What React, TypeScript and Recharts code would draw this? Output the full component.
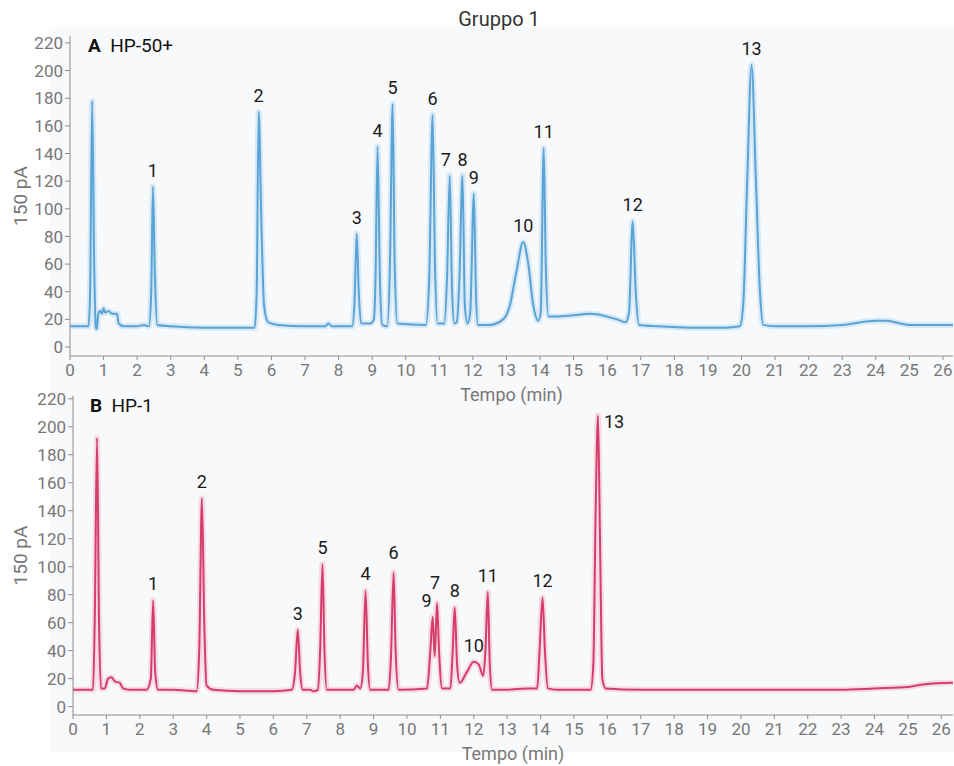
import React from "react";
import { LineChart, Line, XAxis, YAxis, ReferenceDot } from "recharts";

// Panel A – HP-50+ (time in min, signal in pA)
const timeA = [
  0, 0.55, 0.6, 0.66, 0.72, 0.77, 0.8, 0.84, 0.9, 0.95, 1.0, 1.05, 1.15, 1.25, 1.4, 1.45, 1.6,
  2.0, 2.2, 2.35, 2.42, 2.47, 2.53, 2.6, 3.0, 4.0, 5.0, 5.5, 5.56, 5.62, 5.7, 5.78, 5.9, 6.2,
  7.0, 7.6, 7.7, 7.8, 8.4, 8.47, 8.54, 8.6, 8.67, 8.95, 9.05, 9.1, 9.16, 9.23, 9.3, 9.45, 9.53,
  9.61, 9.67, 9.75, 10.6, 10.7, 10.8, 10.87, 10.95, 11.15, 11.23, 11.31, 11.38, 11.45, 11.52,
  11.6, 11.69, 11.76, 11.84, 11.92, 12.03, 12.09, 12.15, 12.5, 12.9, 13.1, 13.3, 13.5, 13.65,
  13.8, 13.95, 14.02, 14.11, 14.17, 14.25, 14.5, 15.0, 15.5, 16.0, 16.3, 16.55, 16.65, 16.76,
  16.85, 16.95, 17.5, 18.5, 19.5, 19.95, 20.05, 20.17, 20.3, 20.43, 20.55, 20.65, 21.0, 22.0,
  23.0, 24.0, 24.3, 25.0, 26.3,
];
const signalA = [
  15, 15, 40, 178, 60, 14, 13, 24, 26, 24, 28, 25, 26, 24, 24, 17, 15,
  15, 16, 15, 40, 116, 50, 16, 15, 14, 14, 14, 40, 170, 90, 30, 18, 16,
  15, 15, 17, 15, 15, 30, 82, 40, 17, 17, 20, 50, 145, 50, 16, 15, 60,
  176, 60, 17, 16, 50, 168, 60, 17, 17, 50, 124, 40, 17, 18,
  50, 124, 30, 17, 25, 111, 40, 16, 16, 20, 30, 55, 76, 60,
  30, 19, 25, 144, 60, 22, 22, 23, 24, 22, 20, 18, 25, 91,
  40, 16, 15, 14, 14, 15, 30, 120, 204, 120, 40, 16, 15, 15,
  16, 19, 19, 16, 16,
];

// Panel B – HP-1
const timeB = [
  0, 0.6, 0.65, 0.72, 0.78, 0.84, 0.95, 1.05, 1.15, 1.25, 1.4, 1.5, 1.7, 2.2, 2.33, 2.4, 2.46,
  2.55, 3.0, 3.7, 3.78, 3.86, 3.93, 4.0, 4.2, 5.0, 6.0, 6.55, 6.65, 6.73, 6.8, 6.88, 7.1, 7.2,
  7.33, 7.4, 7.47, 7.53, 7.6, 8.4, 8.5, 8.6, 8.68, 8.76, 8.83, 8.9, 9.45, 9.52, 9.6, 9.66, 9.75,
  10.6, 10.7, 10.77, 10.83, 10.9, 10.96, 11.05, 11.3, 11.37, 11.43, 11.5, 11.58, 11.8, 12.0,
  12.15, 12.28, 12.35, 12.42, 12.48, 12.55, 13.0, 13.6, 13.9, 13.97, 14.06, 14.13, 14.22, 14.5,
  15.5, 15.58, 15.65, 15.72, 15.78, 15.85, 15.95, 17.0, 20.0, 23.0, 24.0, 25.0, 25.5, 26.35,
];
const signalB = [
  12, 12, 60, 192, 60, 13, 13, 20, 21, 18, 17, 13, 12, 12, 20, 76, 25,
  12, 12, 11, 40, 149, 60, 15, 12, 11, 11, 12, 25, 55, 25, 12, 12, 11,
  12, 40, 102, 40, 12, 12, 15, 13, 25, 83, 30, 12, 12, 35, 96, 40, 12,
  13, 40, 64, 36, 74, 40, 13, 13, 40, 71, 30, 17, 25, 32,
  30, 22, 40, 82, 30, 12, 12, 13, 13, 40, 78, 40, 13, 12,
  12, 30, 140, 208, 120, 20, 13, 12, 12, 12, 13, 14, 16, 17,
];

const peakNames = ["1", "2", "3", "4", "5", "6", "7", "8", "9", "10", "11", "12", "13"];
const peakTimeA = [2.47, 5.62, 8.54, 9.16, 9.61, 10.8, 11.31, 11.69, 12.03, 13.5, 14.11, 16.76, 20.3];
const peakTopA = [116, 170, 82, 145, 176, 168, 124, 124, 111, 76, 144, 91, 204];
const peakTimeB = [2.4, 3.86, 6.73, 8.76, 7.47, 9.6, 10.9, 11.43, 10.77, 12.0, 12.42, 14.06, 15.72];
const peakTopB = [76, 149, 55, 83, 102, 96, 74, 71, 64, 32, 82, 78, 208];

const xTicks = [0, 1, 2, 3, 4, 5, 6, 7, 8, 9, 10, 11, 12, 13, 14, 15, 16, 17, 18, 19, 20, 21, 22, 23, 24, 25, 26];
const yTicks = [0, 20, 40, 60, 80, 100, 120, 140, 160, 180, 200, 220];

// small label nudges so overlapping numbers sit like the original
const nudgeA: Record<string, [number, number]> = { "7": [-4, 0] };
const nudgeB: Record<string, [number, number]> = { "9": [-6, 0], "7": [-2, -4], "6": [0, -3], "13": [16, 22] };

const FONT = "Roboto, 'Noto Sans', sans-serif";
const TICK_SIZE = 17;
const TICK_COLOR = "#777";
const AXIS = "#8c8c8c";

const XTick = ({ x, y, payload }: any) => (
  <text x={x} y={y} dy="0.75em" textAnchor="middle" fill={TICK_COLOR} fontSize={TICK_SIZE} fontFamily={FONT}>
    {payload.value}
  </text>
);

const YTick = ({ x, y, payload }: any) => (
  <text x={x} y={y} dy="0.36em" textAnchor="end" fill={TICK_COLOR} fontSize={TICK_SIZE} fontFamily={FONT}>
    {payload.value}
  </text>
);

const PeakLabel = ({ viewBox, text, dx = 0, dy = 0 }: any) => (
  <text
    x={viewBox.x + dx}
    y={viewBox.y - 10 + dy}
    textAnchor="middle"
    fill="#1a1a1a"
    fontSize={18}
    fontFamily={FONT}
  >
    {text}
  </text>
);

const YTitle = ({ viewBox }: any) => (
  <text
    x={20}
    y={viewBox.y + viewBox.height / 2}
    transform={`rotate(-90 20 ${viewBox.y + viewBox.height / 2})`}
    textAnchor="middle"
    dominantBaseline="central"
    fill={TICK_COLOR}
    fontSize={19}
    fontFamily={FONT}
  >
    150 pA
  </text>
);

const XTitle = ({ viewBox }: any) => (
  <text
    x={viewBox.x + viewBox.width / 2}
    y={viewBox.y + 45}
    textAnchor="middle"
    fill={TICK_COLOR}
    fontSize={18}
    fontFamily={FONT}
  >
    Tempo (min)
  </text>
);

interface PanelProps {
  times: number[];
  values: number[];
  peakTimes: number[];
  peakTops: number[];
  nudge: Record<string, [number, number]>;
  color: string;
  glow: string;
  width: number;
  height: number;
  top: number;
  yWidth: number;
  xHeight: number;
  xMax: number;
  yDomain: [number, number];
}

const Chromatogram = (p: PanelProps) => {
  const data = p.times.map((t, i) => ({ t, v: p.values[i] }));
  return (
    <LineChart
      width={p.width}
      height={p.height}
      data={data}
      margin={{ top: p.top, right: 1, left: 0, bottom: 0 }}
    >
      <XAxis
        dataKey="t"
        type="number"
        domain={[0, p.xMax]}
        ticks={xTicks}
        allowDataOverflow
        height={p.xHeight}
        tick={<XTick />}
        tickSize={4}
        tickMargin={3}
        stroke={AXIS}
        interval={0}
        label={<XTitle />}
      />
      <YAxis
        type="number"
        domain={p.yDomain}
        ticks={yTicks}
        allowDataOverflow
        width={p.yWidth}
        tick={<YTick />}
        tickSize={5}
        tickMargin={2}
        stroke={AXIS}
        interval={0}
        label={<YTitle />}
      />
      <Line
        dataKey="v"
        type="monotone"
        stroke={p.glow}
        strokeOpacity={0.35}
        strokeWidth={6}
        dot={false}
        isAnimationActive={false}
      />
      <Line
        dataKey="v"
        type="monotone"
        stroke={p.color}
        strokeWidth={2}
        dot={false}
        isAnimationActive={false}
      />
      {peakNames.map((name, i) => {
        const [dx, dy] = p.nudge[name] || [0, 0];
        return (
          <ReferenceDot
            key={name}
            x={p.peakTimes[i]}
            y={p.peakTops[i]}
            r={0}
            stroke="none"
            fill="none"
            label={<PeakLabel text={name} dx={dx} dy={dy} />}
          />
        );
      })}
    </LineChart>
  );
};

export default function App() {
  return (
    <div style={{ position: "absolute", left: 0, top: 0, width: 954, height: 766, background: "#fff", fontFamily: FONT }}>
      <div style={{ position: "absolute", left: 49, top: 27, width: 905, height: 725, background: "#f8f9fa" }} />
      <div style={{ position: "absolute", left: 0, top: 7, width: 998, textAlign: "center", fontSize: 20, color: "#333" }}>
        Gruppo 1
      </div>
      <div style={{ position: "absolute", left: 0, top: 0 }}>
        <Chromatogram
          times={timeA}
          values={signalA}
          peakTimes={peakTimeA}
          peakTops={peakTopA}
          nudge={nudgeA}
          color="#5aa3d6"
          glow="#9ccbee"
          width={954}
          height={410}
          top={36}
          yWidth={70}
          xHeight={54}
          xMax={26.3}
          yDomain={[-6.5, 225]}
        />
      </div>
      <div style={{ position: "absolute", left: 0, top: 380 }}>
        <Chromatogram
          times={timeB}
          values={signalB}
          peakTimes={peakTimeB}
          peakTops={peakTopB}
          nudge={nudgeB}
          color="#d63d6b"
          glow="#f2a3bb"
          width={954}
          height={386}
          top={16}
          yWidth={73}
          xHeight={51}
          xMax={26.35}
          yDomain={[-6, 222]}
        />
      </div>
      <div style={{ position: "absolute", left: 88, top: 34, fontSize: 19, color: "#111" }}>
        <b>A</b>&nbsp;&nbsp;HP-50+
      </div>
      <div style={{ position: "absolute", left: 90, top: 394, fontSize: 19, color: "#111" }}>
        <b>B</b>&nbsp;&nbsp;HP-1
      </div>
    </div>
  );
}
